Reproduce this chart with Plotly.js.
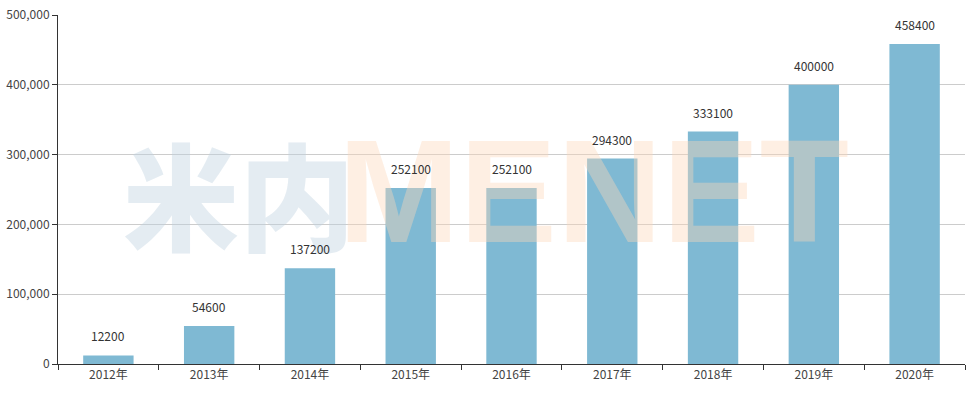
<!DOCTYPE html>
<html><head><meta charset="utf-8">
<script src="https://cdn.plot.ly/plotly-3.0.1.min.js"></script>
<style>body{margin:0;background:#fff}#c{width:970px;height:394px}</style>
</head><body><div id="c"></div>
<script>
const categories = ["2012年","2013年","2014年","2015年","2016年","2017年","2018年","2019年","2020年"];
const values = [12200, 54600, 137200, 252100, 252100, 294300, 333100, 400000, 458400];
const yTicks = [0, 100000, 200000, 300000, 400000, 500000];

const font = "'Microsoft YaHei','Noto Sans CJK SC','Noto Sans',sans-serif";
const labelAnn = categories.map((c, i) => ({
  x: c, y: values[i], xref: 'x', yref: 'y', text: String(values[i]),
  showarrow: false, yanchor: 'bottom', yshift: 9,
  font: {family: font, size: 12, color: '#333'}
}));
const wm = [
  {xref:'paper', yref:'paper', x:0.069, y:0.495, xanchor:'left', yanchor:'middle', text:'米内', showarrow:false,
   font:{family:"'Noto Sans CJK SC'", size:116, color:'rgba(190,210,224,0.42)', weight:900}},
  {xref:'paper', yref:'paper', x:0.306, y:0.495, xanchor:'left', yanchor:'middle', text:'<b>MENET</b>', showarrow:false,
   font:{family:"'Liberation Sans Narrow','Liberation Sans',sans-serif", size:146, color:'rgba(252,215,185,0.4)'}}
];

Plotly.newPlot('c', [{
  type: 'bar', x: categories, y: values, width: 0.5,
  marker: {color: '#7fb9d3'}, hoverinfo: 'none'
}], {
  width: 970, height: 394,
  margin: {l: 58, r: 5, t: 15, b: 30},
  paper_bgcolor: '#fff', plot_bgcolor: '#fff',
  showlegend: false,
  font: {family: font, size: 12, color: '#555'},
  xaxis: {
    type: 'category', showline: true, linecolor: '#333', linewidth: 1,
    ticks: 'outside', tickson: 'boundaries', ticklen: 5, tickcolor: '#333',
    showgrid: false, tickfont: {size: 12, color: '#444'}, fixedrange: true
  },
  yaxis: {
    range: [0, 500000], tickvals: yTicks, tickformat: ',',
    showline: true, linecolor: '#333', linewidth: 1,
    ticks: 'outside', ticklen: 5, tickcolor: '#333',
    gridcolor: '#cccccc', zeroline: false,
    tickfont: {size: 12, color: '#444'}, fixedrange: true
  },
  annotations: wm.concat(labelAnn)
}, {displayModeBar: false, staticPlot: true});
</script></body></html>
